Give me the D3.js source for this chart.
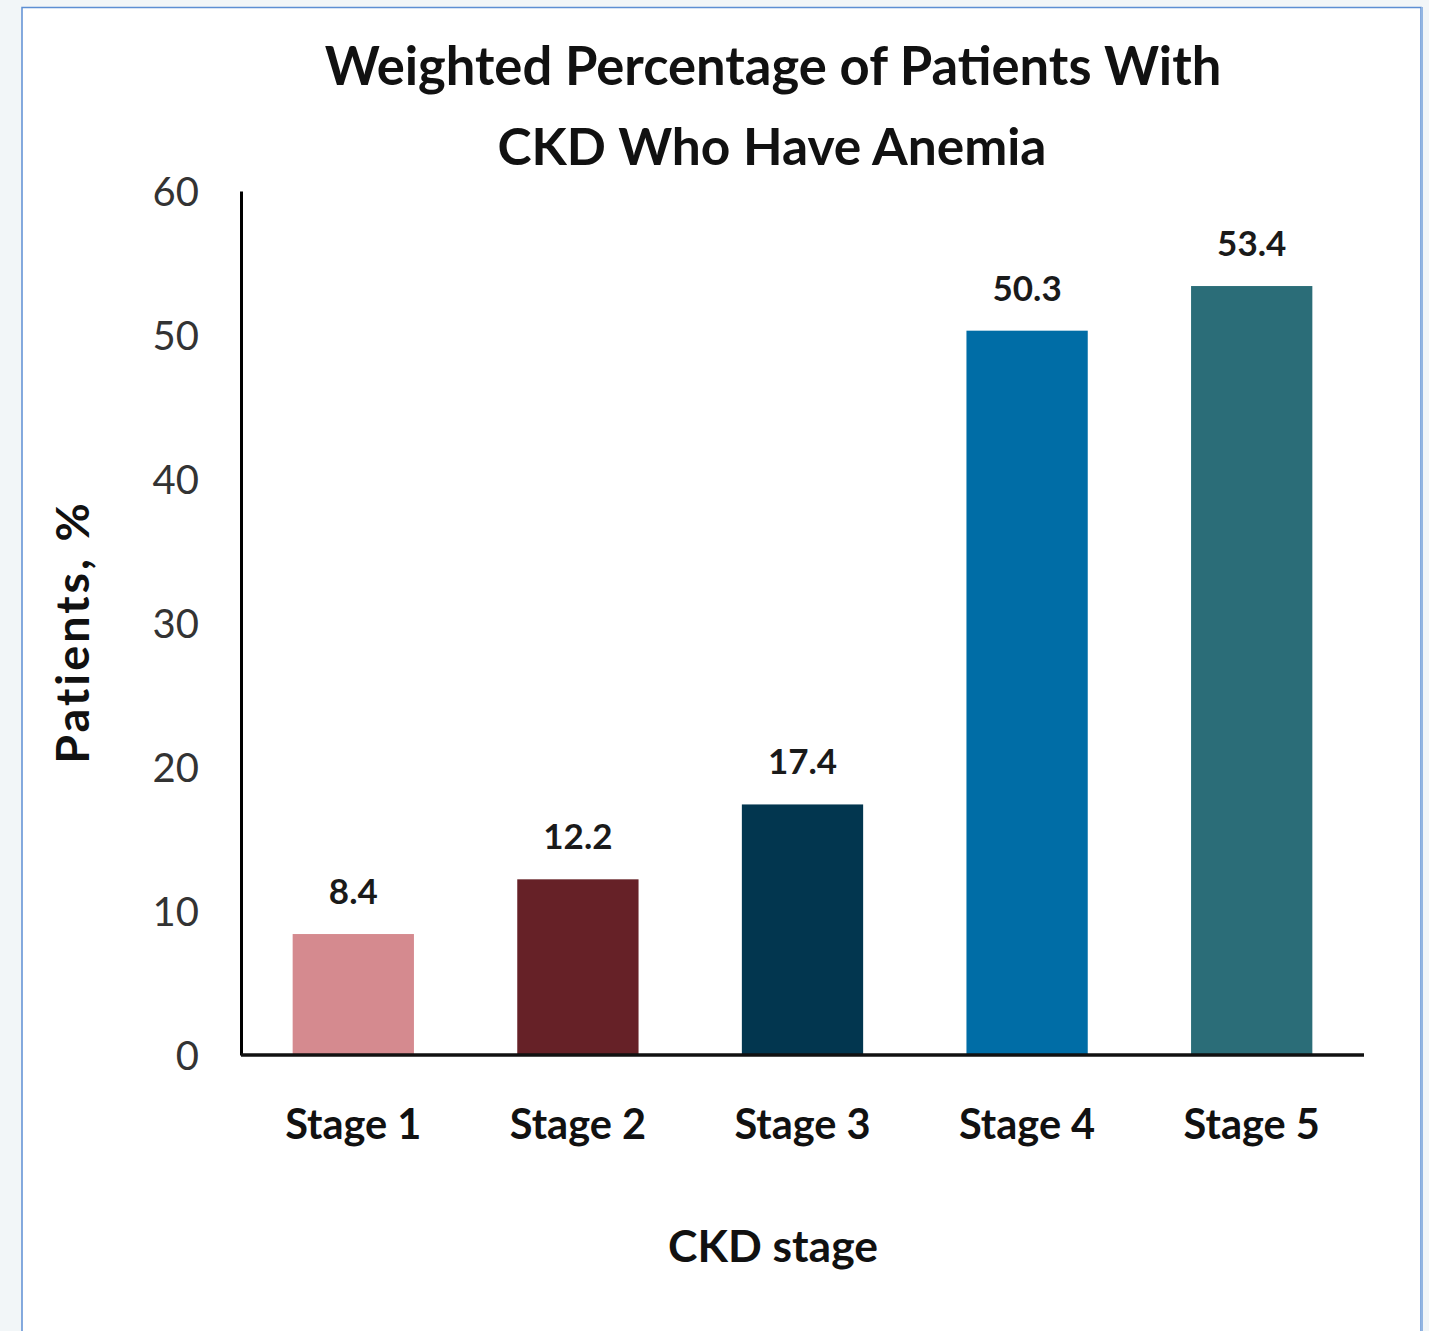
<!DOCTYPE html>
<html>
<head>
<meta charset="utf-8">
<script src="https://cdn.jsdelivr.net/npm/d3@7"></script>
<style>
  html, body { margin: 0; padding: 0; background: #f2f6f8; }
  svg { display: block; }
</style>
</head>
<body>
<svg id="chart" width="1429" height="1331"></svg>
<script>
const categories = ["Stage 1", "Stage 2", "Stage 3", "Stage 4", "Stage 5"];
const values = [8.4, 12.2, 17.4, 50.3, 53.4];
const barColors = ["#d58a8f", "#662127", "#02364f", "#006da6", "#2b6d78"];
const yTicks = [0, 10, 20, 30, 40, 50, 60];
const titleLines = ["Weighted Percentage of Patients With", "CKD Who Have Anemia"];

const chart = d3.select("#chart");
const font = "Lato, 'Open Sans', sans-serif";
const plotLeft = 241, plotRight = 1364, plotTop = 191, plotBottom = 1055;

// panel
chart.append("rect")
	.attr("x", 22).attr("y", 7.5)
	.attr("width", 1399).attr("height", 1340)
	.attr("fill", "#fff")
	.attr("stroke", "#5d8fd3")
	.attr("stroke-width", 1.5);
chart.append("line")
	.attr("x1", 1422).attr("x2", 1422)
	.attr("y1", 7).attr("y2", 1331)
	.attr("stroke", "#93b6e2")
	.attr("stroke-width", 2);

const x = d3.scaleBand().domain(categories).range([plotLeft, plotRight]).paddingInner(0.46).paddingOuter(0.23);
const y = d3.scaleLinear().domain([0, 60]).range([plotBottom, plotTop]);

// fit a text element to a given width
function fit(sel, w) {
	const len = sel.node().getComputedTextLength();
	const fs = parseFloat(sel.attr("font-size"));
	sel.attr("font-size", fs * w / len);
}

const title = chart.append("g")
	.attr("font-family", font)
	.attr("font-weight", "bold")
	.attr("fill", "#111")
	.attr("text-anchor", "middle");
const t1 = title.append("text").text(titleLines[0])
	.attr("x", 773).attr("y", 85).attr("font-size", 50);
fit(t1, 897);
const t2 = title.append("text").text(titleLines[1])
	.attr("x", 772).attr("y", 165).attr("font-size", 50);
fit(t2, 549);

// bars
chart.append("g").selectAll("rect")
	.data(values)
	.enter()
	.append("rect")
	.attr("x", (d, i) => x(categories[i]))
	.attr("y", d => y(d))
	.attr("width", x.bandwidth())
	.attr("height", d => y(0) - y(d))
	.attr("fill", (d, i) => barColors[i]);

// value labels
chart.append("g").selectAll("text")
	.data(values)
	.enter()
	.append("text")
	.attr("x", (d, i) => x(categories[i]) + x.bandwidth() / 2)
	.attr("y", d => y(d) - 30)
	.attr("text-anchor", "middle")
	.attr("font-family", font)
	.attr("font-weight", "bold")
	.attr("font-size", 35)
	.attr("fill", "#1a1a1a")
	.text(d => d.toFixed(1));

// y axis
const yAxis = chart.append("g")
	.attr("transform", "translate(" + plotLeft + ",0)")
	.call(d3.axisLeft(y).tickValues(yTicks).tickSize(0).tickPadding(42));
yAxis.select(".domain").attr("stroke", "#000").attr("stroke-width", 3);
yAxis.selectAll("text")
	.attr("font-family", font)
	.attr("font-size", 40)
	.attr("fill", "#333")
	.attr("dy", "0.36em");

// x axis
const xAxis = chart.append("g")
	.attr("transform", "translate(0," + plotBottom + ")")
	.call(d3.axisBottom(x).tickSize(0).tickPadding(55));
xAxis.select(".domain").attr("stroke", "#111").attr("stroke-width", 3.5)
	.attr("d", "M" + plotLeft + ",0H" + plotRight);
xAxis.selectAll("text")
	.attr("font-family", font)
	.attr("font-weight", "bold")
	.attr("font-size", 41.5)
	.attr("fill", "#111");

// axis titles
const ylab = chart.append("text")
	.attr("transform", "translate(89,632) rotate(-90)")
	.attr("text-anchor", "middle")
	.attr("font-family", font)
	.attr("font-weight", "bold")
	.attr("font-size", 38)
	.attr("fill", "#111")
	.attr("letter-spacing", 3)
	.text("Patients, %");
fit(ylab, 271);

const xlab = chart.append("text")
	.attr("x", 773).attr("y", 1262)
	.attr("text-anchor", "middle")
	.attr("font-family", font)
	.attr("font-weight", "bold")
	.attr("font-size", 40)
	.attr("fill", "#111")
	.text("CKD stage");
fit(xlab, 210);
</script>
</body>
</html>
